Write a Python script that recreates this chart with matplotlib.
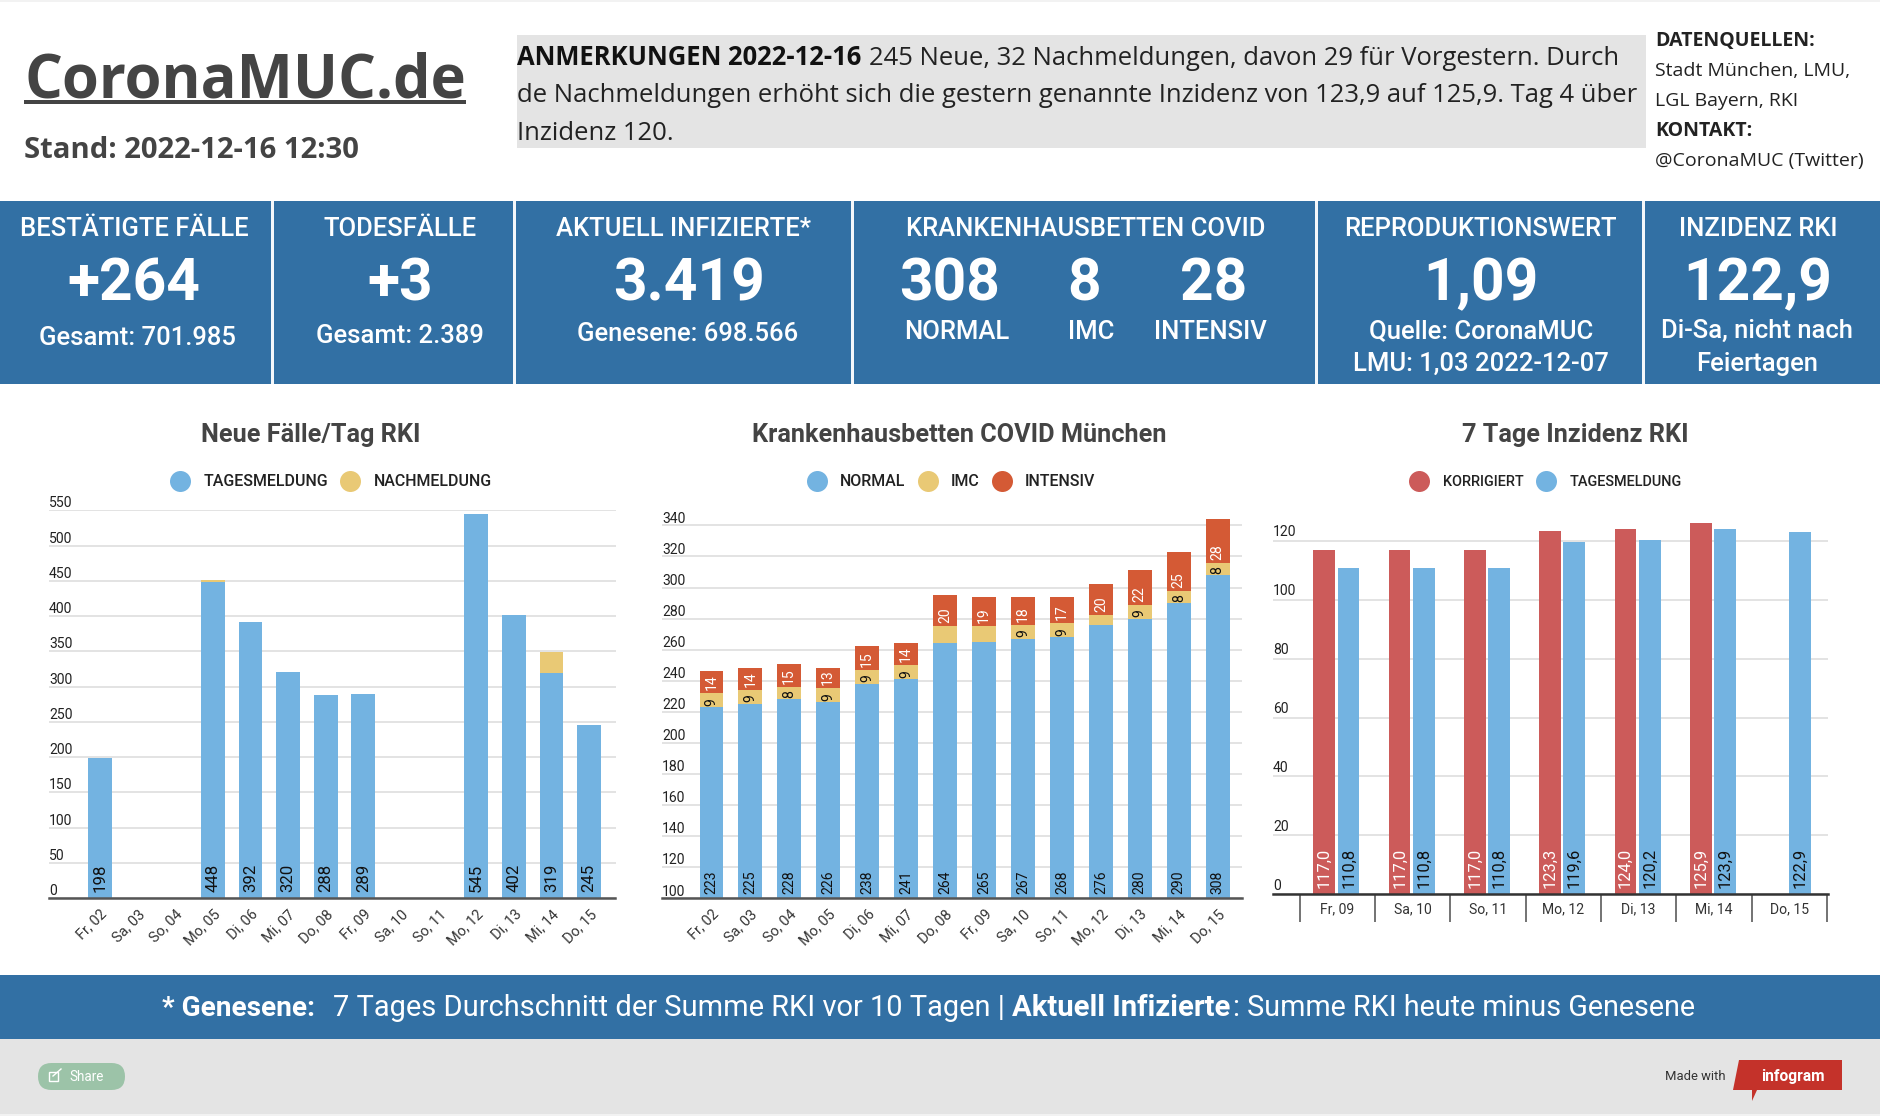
import numpy as np
import matplotlib
matplotlib.use('Agg')
import matplotlib.pyplot as plt
from matplotlib.lines import Line2D
from matplotlib.patches import FancyBboxPatch, Polygon, Rectangle
from matplotlib.transforms import ScaledTranslation

# daten
days_14 = ['Fr, 02', 'Sa, 03', 'So, 04', 'Mo, 05', 'Di, 06', 'Mi, 07', 'Do, 08',
           'Fr, 09', 'Sa, 10', 'So, 11', 'Mo, 12', 'Di, 13', 'Mi, 14', 'Do, 15']
faelle_tag = [198, np.nan, np.nan, 448, 392, 320, 288, 289, np.nan, np.nan, 545, 402, 319, 245]
faelle_nach = [0, 0, 0, 3, 0, 0, 0, 0, 0, 0, 0, 0, 30, 0]

betten_normal = [223, 225, 228, 226, 238, 241, 264, 265, 267, 268, 276, 280, 290, 308]
betten_imc = [9, 9, 8, 9, 9, 9, 11, 10, 9, 9, 6, 9, 8, 8]
betten_intensiv = [14, 14, 15, 13, 15, 14, 20, 19, 18, 17, 20, 22, 25, 28]
imc_ohne_label = ['Do, 08', 'Fr, 09', 'Mo, 12']

days_7 = ['Fr, 09', 'Sa, 10', 'So, 11', 'Mo, 12', 'Di, 13', 'Mi, 14', 'Do, 15']
inz_korrigiert = [117.0, 117.0, 117.0, 123.3, 124.0, 125.9, np.nan]
inz_tag = [110.8, 110.8, 110.8, 119.6, 120.2, 123.9, 122.9]

BLUE = '#73B3E1'
YELLOW = '#E9C975'
ORANGE = '#D45A35'
RED = '#CC5B5A'
BAND = '#3270A4'
GREY = '#E4E4E4'
DARK = '#444444'
DPI = 100


def pt(px):
    return px * 72 / DPI


plt.rcParams['font.family'] = ['Roboto', 'DejaVu Sans']
fig = plt.figure(figsize=(18.8, 11.16), dpi=DPI, facecolor='white')

# ueberlage in pixel koordinaten
bg = fig.add_axes([0, 0, 1, 1])
bg.set_xlim(0, 1880)
bg.set_ylim(1116, 0)
bg.axis('off')


def box(x0, y0, x1, y1, color):
    bg.add_patch(Rectangle((x0, y0), x1 - x0, y1 - y0, fc=color, ec='none'))


def txt(x, y, s, px, color='white', weight='normal', ha='center', family='Roboto'):
    bg.text(x, y, s, fontsize=pt(px), color=color, fontweight=weight, ha=ha, va='baseline',
            family=[family, 'DejaVu Sans'])


box(0, 0, 1880, 2, '#F2F2F2')

# kopfzeile
txt(24, 98, 'CoronaMUC.de', 59.7, DARK, 'bold', 'left', 'Open Sans')
box(24, 100, 466, 104, DARK)
txt(24, 158, 'Stand: 2022-12-16 12:30', 29.3, DARK, 'bold', 'left', 'Open Sans')

box(517, 35, 1646, 148, GREY)
txt(517, 65, 'ANMERKUNGEN 2022-12-16', 25.65, '#111111', 'bold', 'left', 'Open Sans')
txt(869, 65, '245 Neue, 32 Nachmeldungen, davon 29 für Vorgestern. Durch', 25.65, '#222222', 'normal', 'left', 'Open Sans')
txt(517, 102, 'de Nachmeldungen erhöht sich die gestern genannte Inzidenz von 123,9 auf 125,9. Tag 4 über', 25.65, '#222222', 'normal', 'left', 'Open Sans')
txt(517, 140, 'Inzidenz 120.', 25.65, '#222222', 'normal', 'left', 'Open Sans')

txt(1655, 46, 'DATENQUELLEN:', 19.5, '#222222', 'bold', 'left', 'Open Sans')
txt(1655, 76, 'Stadt München, LMU,', 19.5, '#222222', 'normal', 'left', 'Open Sans')
txt(1655, 106, 'LGL Bayern, RKI', 19.5, '#222222', 'normal', 'left', 'Open Sans')
txt(1655, 136, 'KONTAKT:', 19.5, '#222222', 'bold', 'left', 'Open Sans')
txt(1655, 166, '@CoronaMUC (Twitter)', 19.5, '#222222', 'normal', 'left', 'Open Sans')

# kennzahlen
box(0, 201, 1880, 384, BAND)
for x in [272.5, 514, 852, 1316, 1643]:
    box(x - 1.5, 201, x + 1.5, 384, '#F4F7FA')

head = 25.6
big = 58.6
med = 'medium'
txt(134, 236, 'BESTÄTIGTE FÄLLE', head, weight=med)
txt(134, 300.5, '+264', big, weight='bold')
txt(137, 345, 'Gesamt: 701.985', head, weight=med)
txt(400, 236, 'TODESFÄLLE', head, weight=med)
txt(400, 300.5, '+3', big, weight='bold')
txt(400, 343, 'Gesamt: 2.389', head, weight=med)
txt(684, 236, 'AKTUELL INFIZIERTE*', head, weight=med)
txt(689, 300.5, '3.419', big, weight='bold')
txt(688, 341, 'Genesene: 698.566', head, weight=med)
txt(1086, 236, 'KRANKENHAUSBETTEN COVID', head, weight=med)
txt(950, 300.5, '308', big, weight='bold')
txt(1084, 300.5, '8', big, weight='bold')
txt(1214, 300.5, '28', big, weight='bold')
txt(957, 339, 'NORMAL', head, weight=med)
txt(1091, 339, 'IMC', head, weight=med)
txt(1210, 339, 'INTENSIV', head, weight=med)
txt(1480, 236, 'REPRODUKTIONSWERT', head, weight=med)
txt(1481, 300.5, '1,09', big, weight='bold')
txt(1481, 338, 'Quelle: CoronaMUC', head, weight=med)
txt(1481, 371, 'LMU: 1,03 2022-12-07', head, weight=med)
txt(1758, 236, 'INZIDENZ RKI', head, weight=med)
txt(1758, 300.5, '122,9', big, weight='bold')
txt(1757, 338, 'Di-Sa, nicht nach', head, weight=med)
txt(1757, 371, 'Feiertagen', head, weight=med)

# fusszeile
box(0, 975, 1880, 1039, BAND)
box(0, 1039, 1880, 1114, GREY)
box(0, 1114, 1880, 1116, '#F2F2F2')
txt(162, 1016, '* Genesene:', 28, weight='bold', ha='left')
txt(333, 1016, '7 Tages Durchschnitt der Summe RKI vor 10 Tagen |', 29, ha='left')
txt(1012, 1016, 'Aktuell Infizierte', 29.2, weight='bold', ha='left')
txt(1233, 1016, ': Summe RKI heute minus Genesene', 28.8, ha='left')

bg.add_patch(FancyBboxPatch((38, 1063), 87, 27, boxstyle='round,pad=0,rounding_size=13.5',
                            fc='#9CC3A8', ec='none'))
bg.add_patch(Rectangle((49, 1072), 9, 9, fc='none', ec='white', lw=1))
bg.plot([53, 61], [1076, 1069], color='white', lw=1)
txt(69, 1081, 'Share', 13.5, ha='left')
txt(1665, 1080, 'Made with', 13, '#333333', ha='left')
bg.add_patch(Polygon([(1739, 1060), (1842, 1060), (1842, 1090), (1757, 1090), (1752, 1101),
                      (1752, 1090), (1733, 1090)], fc='#C4322A', ec='none'))
txt(1761, 1081, 'infogram', 15.5, weight='bold', ha='left')


def chart_axes(left, right, base_px, tick_px, y0, tick_val, ytop, first_px, step_px):
    px_per_val = (base_px - tick_px) / (tick_val - y0)
    top_px = base_px - (ytop - y0) * px_per_val
    ax = fig.add_axes([left / 1880, 1 - base_px / 1116, (right - left) / 1880, (base_px - top_px) / 1116])
    ax.patch.set_alpha(0)
    ax.set_ylim(y0, ytop)
    ax.set_xlim((left - first_px) / step_px, (right - first_px) / step_px)
    for side in ['top', 'left', 'right']:
        ax.spines[side].set_visible(False)
    ax.spines['bottom'].set_color('#555555')
    ax.spines['bottom'].set_linewidth(pt(2.5))
    ax.spines['bottom'].set_zorder(5)
    ax.grid(axis='y', color='#DDDDDD', lw=pt(1.6))
    ax.set_axisbelow(True)
    return ax


def y_labels(ax, ticks, up_px):
    # Beschriftung sitzt innen, ueber der Gitterlinie
    ax.set_yticks(ticks)
    ax.set_yticklabels([str(t) for t in ticks], ha='left', va='bottom')
    ax.tick_params(axis='y', length=0, pad=0, labelsize=pt(14), labelcolor='#222222')
    shift = ScaledTranslation(0, pt(up_px) / 72, fig.dpi_scale_trans)
    for lab in ax.get_yticklabels():
        lab.set_transform(lab.get_transform() + shift)


def x_labels_schraeg(ax, labels):
    ax.set_xticks(range(len(labels)))
    ax.set_xticklabels(labels, rotation=45, ha='right', rotation_mode='anchor')
    ax.tick_params(axis='x', length=0, pad=pt(9), labelsize=pt(14.5), labelcolor='#333333')


def legend(ax, items, xc, px, text_gap, col_gap):
    handles = [Line2D([], [], ls='', marker='o', ms=pt(21), mfc=c, mec='none', label=l) for l, c in items]
    font = {'family': 'Roboto', 'weight': 'medium', 'size': pt(px)}
    fig.legend(handles=handles, loc='center', bbox_to_anchor=(xc / 1880, 1 - 482 / 1116), ncol=len(items),
               frameon=False, prop=font, handlelength=1, handletextpad=text_gap, columnspacing=col_gap,
               labelcolor='#222222', borderpad=0, borderaxespad=0)


def bar_label(ax, x, bottom, s, px, color, off_px):
    ax.annotate(s, (x, bottom), xytext=(0, pt(off_px)), textcoords='offset points', rotation=90,
                ha='center', va='bottom', fontsize=pt(px), color=color, zorder=6)


# Neue Faelle
ax1 = chart_axes(49, 615.5, 898, 510.4, 0, 550, 550, 99.8, 37.65)
x1 = np.arange(len(days_14))
ax1.bar(x1, faelle_tag, width=0.63, color=BLUE)
ax1.bar(x1, faelle_nach, width=0.63, bottom=np.nan_to_num(faelle_tag), color=YELLOW)
for i, v in enumerate(faelle_tag):
    if not np.isnan(v):
        bar_label(ax1, i, 0, str(v), 16.7, '#111111', 6)
y_labels(ax1, list(range(0, 551, 50)), 0)
x_labels_schraeg(ax1, days_14)
bg.text(310.6, 442, 'Neue Fälle/Tag RKI', fontsize=pt(25.3), fontweight='bold', color=DARK, ha='center', va='baseline')
legend(ax1, [('TAGESMELDUNG', BLUE), ('NACHMELDUNG', YELLOW)], 332, 16, 0.94, 0.9)

# Krankenhausbetten
ax2 = chart_axes(662, 1242, 898, 525.4, 100, 340, 350, 711.4, 38.95)
x2 = np.arange(len(days_14))
normal = np.array(betten_normal)
imc = np.array(betten_imc)
intensiv = np.array(betten_intensiv)
ax2.bar(x2, normal, width=0.61, color=BLUE)
ax2.bar(x2, imc, width=0.61, bottom=normal, color=YELLOW)
ax2.bar(x2, intensiv, width=0.61, bottom=normal + imc, color=ORANGE)
for i in x2:
    bar_label(ax2, i, 100, str(normal[i]), 14, '#111111', 4.5)
    if days_14[i] not in imc_ohne_label:
        bar_label(ax2, i, normal[i], str(imc[i]), 14, '#111111', 1.5)
    bar_label(ax2, i, normal[i] + imc[i], str(intensiv[i]), 14, 'white', 3)
y_labels(ax2, list(range(100, 341, 20)), -0.5)
x_labels_schraeg(ax2, days_14)
bg.text(959.5, 442, 'Krankenhausbetten COVID München', fontsize=pt(25.3), fontweight='bold', color=DARK, ha='center', va='baseline')
legend(ax2, [('NORMAL', BLUE), ('IMC', YELLOW), ('INTENSIV', ORANGE)], 952, 16, 0.94, 0.9)

# Inzidenz
ax3 = chart_axes(1273, 1828, 894.3, 540.7, 0, 120, 130, 1337.4, 75.3)
ax3.spines['bottom'].set_color('#333333')
x3 = np.arange(len(days_7))
w = 0.29
ax3.bar(x3 - 0.175, inz_korrigiert, width=w, color=RED)
ax3.bar(x3 + 0.147, inz_tag, width=w, color=BLUE)
for i in x3:
    if not np.isnan(inz_korrigiert[i]):
        bar_label(ax3, i - 0.175, 0, f'{inz_korrigiert[i]:.1f}'.replace('.', ','), 16.5, 'white', 6)
    bar_label(ax3, i + 0.147, 0, f'{inz_tag[i]:.1f}'.replace('.', ','), 16.5, '#111111', 6)
y_labels(ax3, list(range(0, 121, 20)), 1.5)
ax3.set_xticks(x3)
ax3.set_xticklabels(days_7)
ax3.set_xticks(np.arange(len(days_7) + 1) - 0.5, minor=True)
ax3.tick_params(axis='x', which='major', length=0, pad=pt(8), labelsize=pt(14), labelcolor='#333333')
ax3.tick_params(axis='x', which='minor', length=pt(27.5), width=pt(1.6), color='#555555')
bg.text(1575.8, 442, '7 Tage Inzidenz RKI', fontsize=pt(25.3), fontweight='bold', color=DARK, ha='center', va='baseline')
legend(ax3, [('KORRIGIERT', RED), ('TAGESMELDUNG', BLUE)], 1547, 14.5, 1.09, 1.1)

fig.savefig('out.png', dpi=DPI)
